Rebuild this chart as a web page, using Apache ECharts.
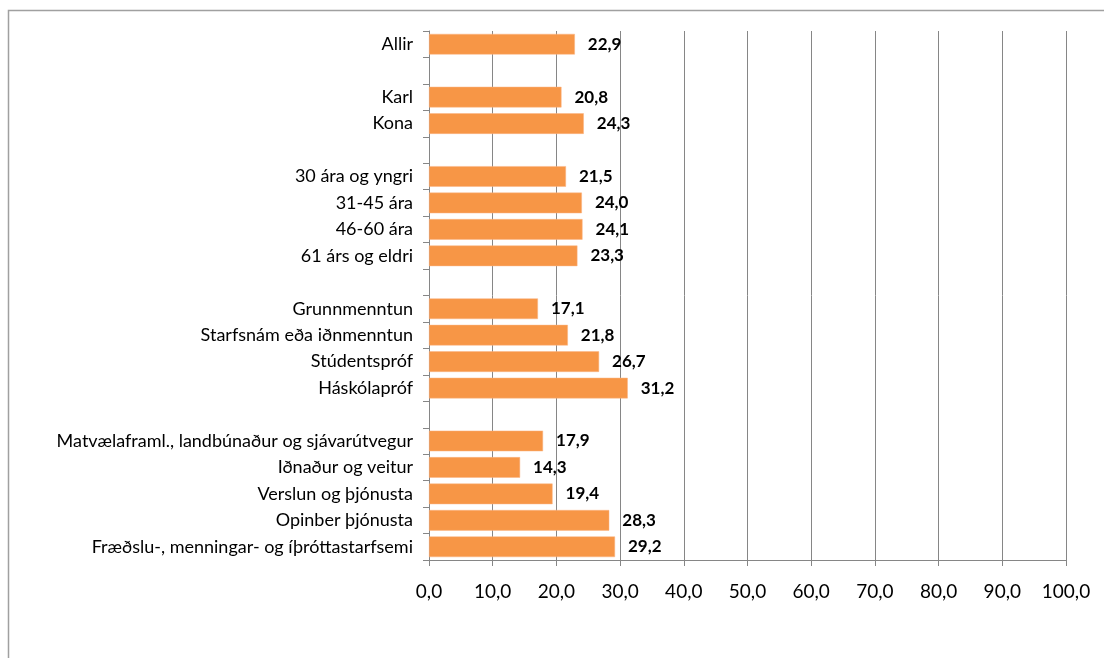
<!DOCTYPE html>
<html>
<head>
<meta charset="utf-8">
<script src="https://cdn.jsdelivr.net/npm/echarts@6/dist/echarts.min.js"></script>
<style>
  html, body { margin: 0; padding: 0; background: #fff; }
  #chart { width: 1104px; height: 658px; }
</style>
</head>
<body>
<div id="chart"></div>
<script>
// flokkar, tómir strengir eru bil milli hópa
var categories = [
  'Allir', '',
  'Karl', 'Kona', '',
  '30 ára og yngri', '31-45 ára', '46-60 ára', '61 árs og eldri', '',
  'Grunnmenntun', 'Starfsnám eða iðnmenntun', 'Stúdentspróf', 'Háskólapróf', '',
  'Matvælaframl., landbúnaður og sjávarútvegur', 'Iðnaður og veitur', 'Verslun og þjónusta',
  'Opinber þjónusta', 'Fræðslu-, menningar- og íþróttastarfsemi'
];
var values = [
  22.9, null,
  20.8, 24.3, null,
  21.5, 24.0, 24.1, 23.3, null,
  17.1, 21.8, 26.7, 31.2, null,
  17.9, 14.3, 19.4, 28.3, 29.2
];
var axisTicks = [0, 100, 10]; // min, max, bil

var myChart = echarts.init(document.getElementById('chart'));
var fontFam = 'Lato, "Open Sans", sans-serif';

var option = {
  backgroundColor: '#fff',
  animation: false,
  graphic: [{
    type: 'rect',
    shape: { x: 8.5, y: 10.5, width: 1200, height: 700 },
    style: { fill: 'none', stroke: '#a0a0a0', lineWidth: 1.5 },
    silent: true
  }],
  grid: { left: 429, right: 38, top: 31, bottom: 98 },
  xAxis: {
    type: 'value',
    min: axisTicks[0],
    max: axisTicks[1],
    interval: axisTicks[2],
    axisLine: { show: true, lineStyle: { color: '#868686', width: 1 } },
    axisTick: { show: true, length: 6, lineStyle: { color: '#868686' } },
    splitLine: { show: true, lineStyle: { color: '#868686', width: 1 } },
    axisLabel: {
      margin: 22,
      color: '#000',
      fontSize: 19,
      fontFamily: fontFam,
      formatter: function (v) { return v.toFixed(1).replace('.', ','); }
    }
  },
  yAxis: {
    type: 'category',
    data: categories,
    inverse: true,
    axisLine: { show: true, lineStyle: { color: '#868686', width: 1 } },
    axisTick: { show: true, length: 6, lineStyle: { color: '#868686' } },
    axisLabel: {
      margin: 16,
      color: '#000',
      fontSize: 18,
      fontFamily: fontFam,
      interval: 0
    }
  },
  series: [{
    type: 'bar',
    data: values,
    barCategoryGap: '22%',
    itemStyle: { color: '#F79646', borderColor: '#FBB584', borderWidth: 0.5 },
    label: {
      show: true,
      position: 'right',
      distance: 13,
      color: '#000',
      fontSize: 17,
      fontWeight: 'bold',
      fontFamily: fontFam,
      formatter: function (p) { return p.value.toFixed(1).replace('.', ','); }
    }
  }]
};

myChart.setOption(option);
</script>
</body>
</html>
